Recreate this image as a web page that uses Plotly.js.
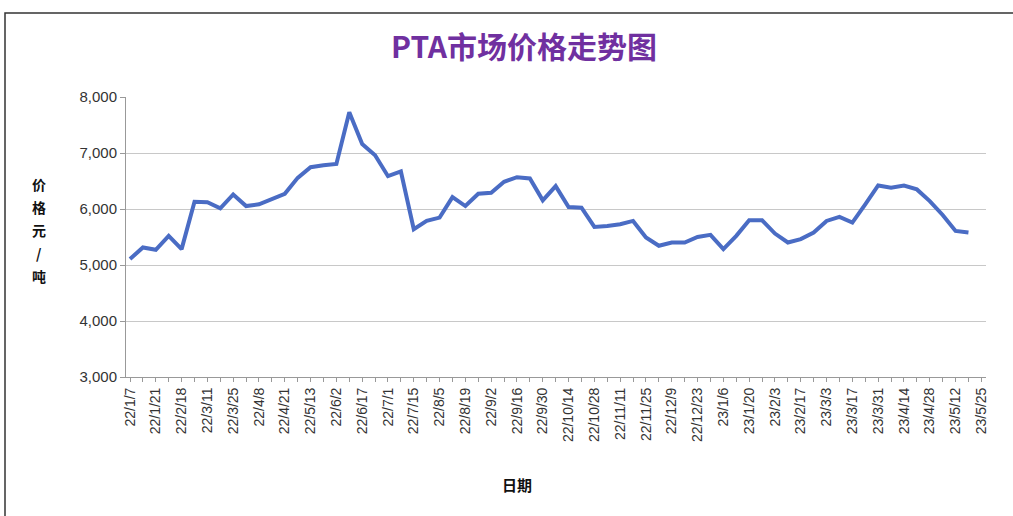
<!DOCTYPE html>
<html>
<head>
<meta charset="utf-8">
<script src="https://cdn.plot.ly/plotly-3.0.1.min.js"></script>
<style>
html,body{margin:0;padding:0;background:#fff;}
#chart{width:1013px;height:516px;}
</style>
</head>
<body>
<div id="chart"></div>
<script>
// category dates (labels shown on every other category)
const dates = [
 "22/1/7","22/1/14","22/1/21","22/2/11","22/2/18","22/3/4","22/3/11","22/3/18","22/3/25","22/4/1",
 "22/4/8","22/4/15","22/4/21","22/5/6","22/5/13","22/5/27","22/6/2","22/6/10","22/6/17","22/6/24",
 "22/7/1","22/7/8","22/7/15","22/7/29","22/8/5","22/8/12","22/8/19","22/8/26","22/9/2","22/9/9",
 "22/9/16","22/9/23","22/9/30","22/10/8","22/10/14","22/10/21","22/10/28","22/11/4","22/11/11","22/11/18",
 "22/11/25","22/12/2","22/12/9","22/12/16","22/12/23","22/12/30","23/1/6","23/1/13","23/1/20","23/1/27",
 "23/2/3","23/2/10","23/2/17","23/2/24","23/3/3","23/3/10","23/3/17","23/3/24","23/3/31","23/4/7",
 "23/4/14","23/4/21","23/4/28","23/5/5","23/5/12","23/5/19","23/5/25"
];
// PTA price, yuan/ton (last category has no value)
const prices = [
 5106,5313,5272,5520,5284,6130,6120,6012,6260,6053,
 6083,6172,6272,6556,6746,6781,6805,7728,7160,6959,
 6586,6670,5639,5787,5846,6213,6053,6272,6290,6485,
 6568,6545,6154,6408,6036,6024,5680,5698,5728,5787,
 5490,5343,5402,5402,5500,5538,5284,5520,5799,5799,
 5562,5402,5462,5579,5787,5858,5757,6083,6420,6378,
 6420,6350,6142,5893,5609,5579,null
];
const yTicks = [3000,4000,5000,6000,7000,8000];
const titleText = "PTA市场价格走势图";
const yTitleChars = ["价","格","元","/","吨"];
const xTitleText = "日期";

const tickText = dates.map((d,i)=> i%2===0 ? d : "");

const L=126, R=986, T=97, B=377;
const W=R-L, H=B-T;
const px = x => (x-L)/W;
const py = y => (B-y)/H;

const annotations = yTitleChars.map((c,i)=>({
  text:c, xref:'paper', yref:'paper', x:px(39), y:py(184+23*i),
  xanchor:'center', yanchor:'middle', showarrow:false,
  font:{family:'Noto Sans CJK SC, sans-serif', size:14, color:'#111', weight:700}
}));
annotations.push({
  text:xTitleText, xref:'paper', yref:'paper', x:px(517), y:py(484),
  xanchor:'center', yanchor:'middle', showarrow:false,
  font:{family:'Noto Sans CJK SC, sans-serif', size:15, color:'#111', weight:700}
});

const trace = {
  x: dates, y: prices, type:'scatter', mode:'lines',
  line:{color:'#4a6cc4', width:4}, connectgaps:false, hoverinfo:'x+y'
};

const layout = {
  width:1013, height:516,
  margin:{l:L, r:1013-R, t:T, b:516-B, pad:0},
  paper_bgcolor:'#fff', plot_bgcolor:'#fff',
  showlegend:false,
  title:{text:titleText, x:px(524), xref:'paper', xanchor:'center', y:1-47/516, yref:'container', yanchor:'middle',
    font:{family:'Noto Sans CJK SC, sans-serif', size:30, color:'#7030a0', weight:700}},
  xaxis:{
    type:'category', range:[-0.31, 66.36], tickmode:'array', tickvals:dates, ticktext:tickText,
    tickangle:-90, ticks:'outside', ticklen:4, tickcolor:'#999', showgrid:false,
    showline:true, linecolor:'#999', linewidth:1, zeroline:false,
    tickfont:{family:'Liberation Sans, Arial, sans-serif', size:14, color:'#333'}
  },
  yaxis:{
    range:[3000,8000], tickmode:'array', tickvals:yTicks, tickformat:',d',
    ticks:'outside', ticklen:5, tickcolor:'#999', showgrid:true, gridcolor:'#c8c8c8', gridwidth:1,
    showline:true, linecolor:'#999', linewidth:1, zeroline:false,
    tickfont:{family:'Liberation Sans, Arial, sans-serif', size:15, color:'#333'}
  },
  annotations: annotations,
  shapes:[{type:'rect', xref:'paper', yref:'paper', x0:px(5), x1:px(1030), y0:py(540), y1:py(13),
    line:{color:'#333', width:1.5}, fillcolor:'rgba(0,0,0,0)', layer:'above'}]
};

Plotly.newPlot('chart',[trace],layout,{displayModeBar:false, staticPlot:true});
</script>
</body>
</html>
